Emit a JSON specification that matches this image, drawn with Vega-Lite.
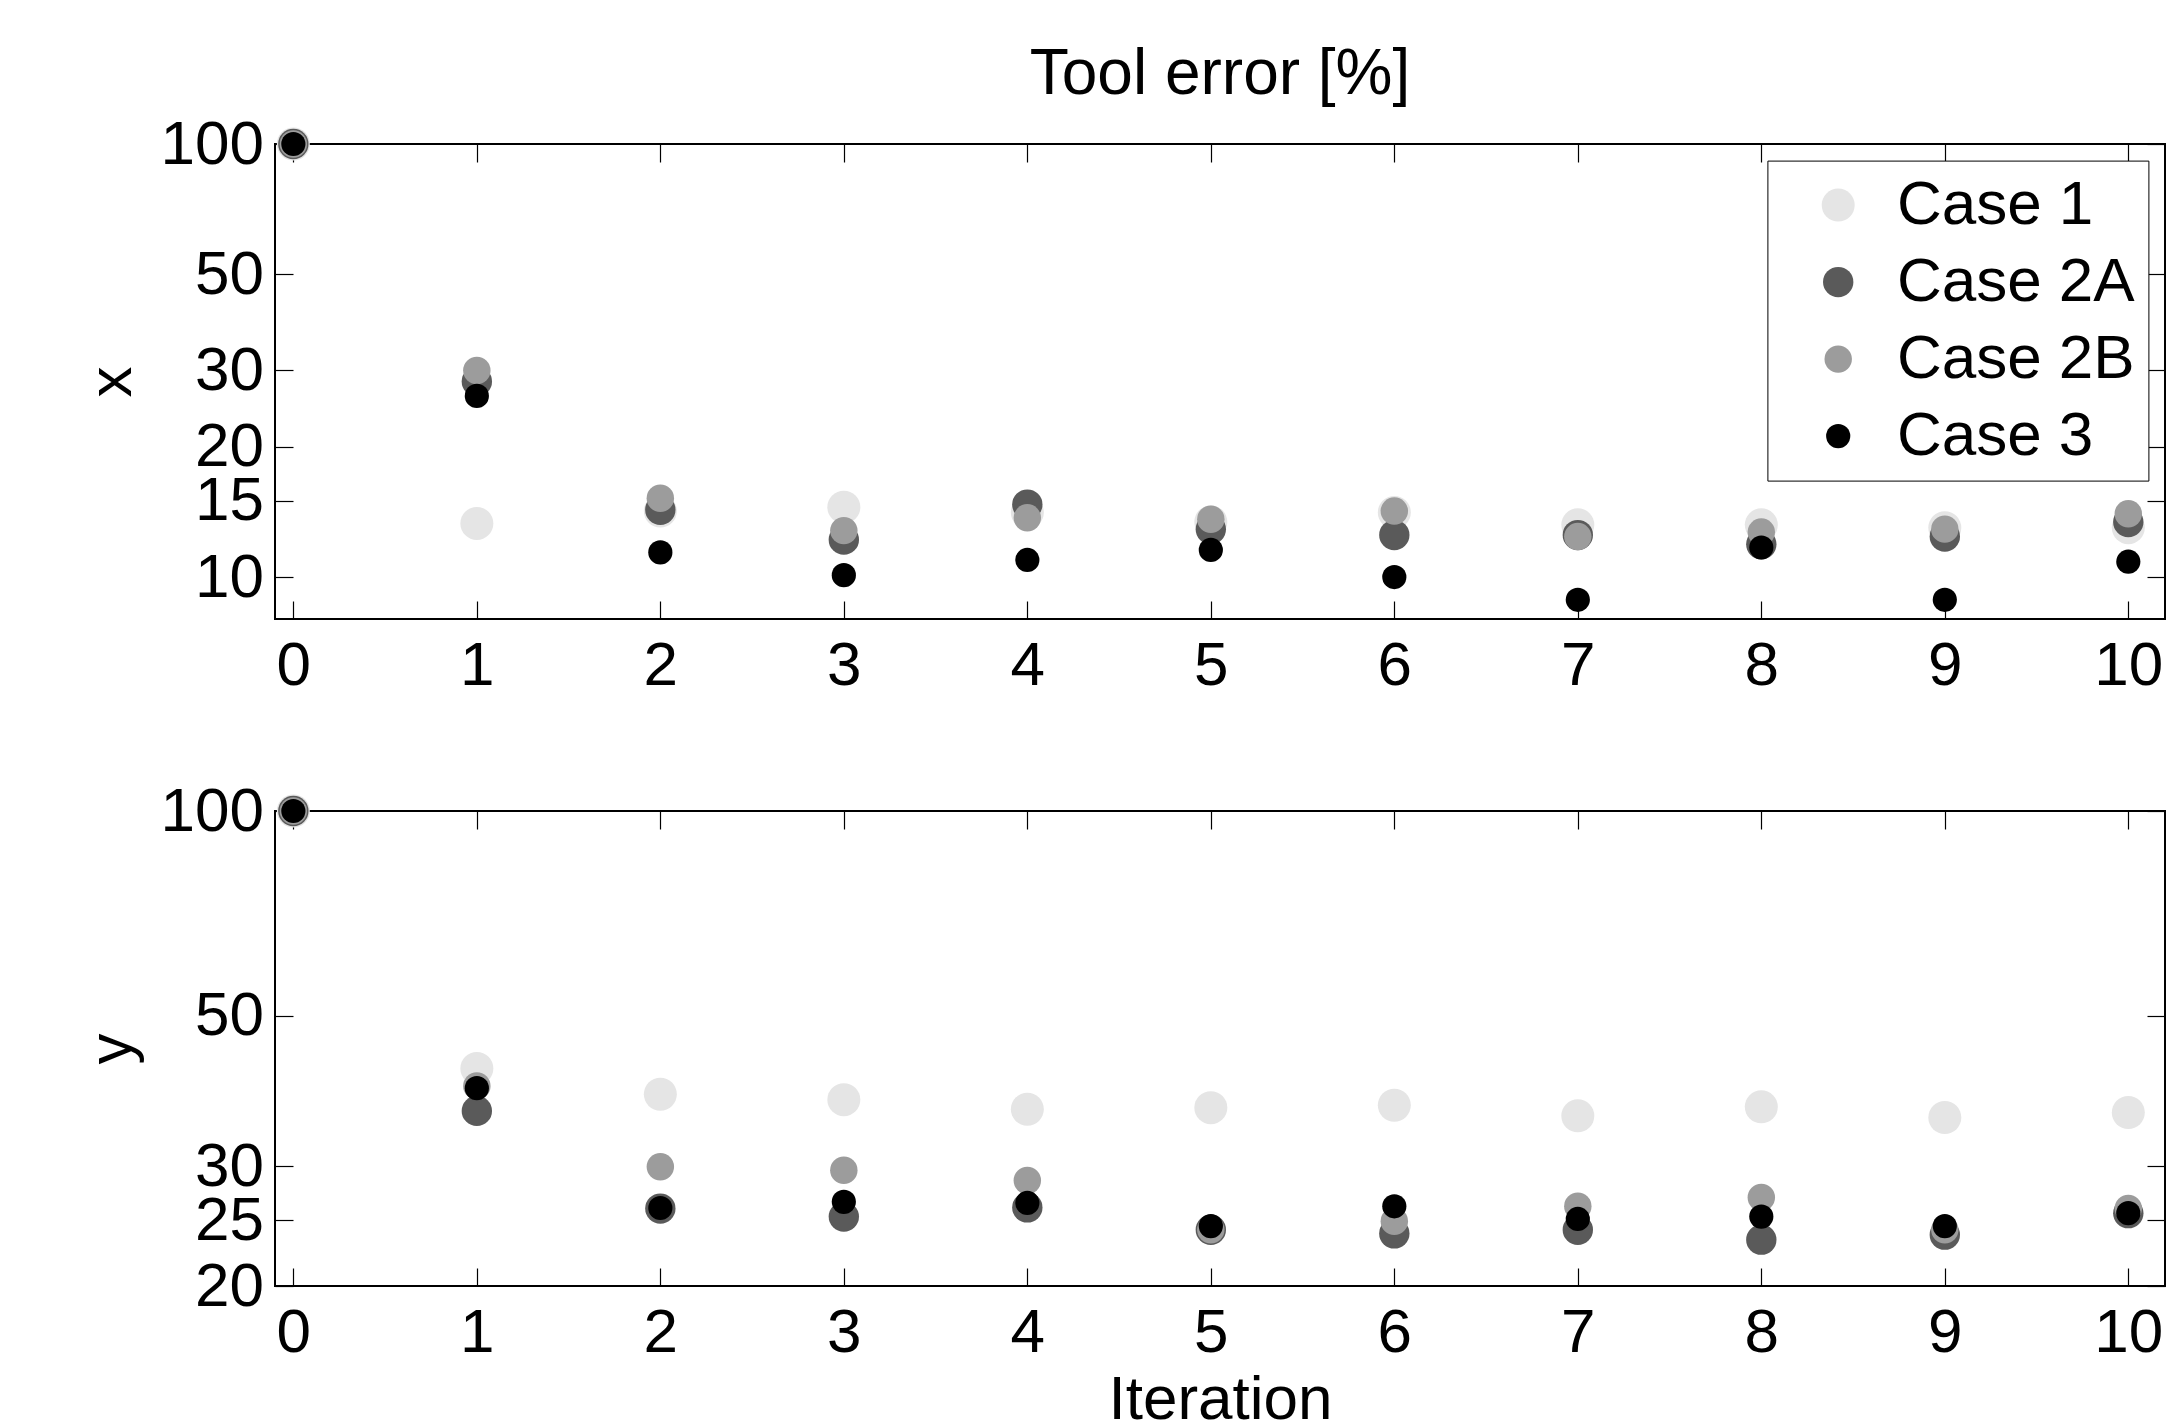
{
  "$schema": "https://vega.github.io/schema/vega-lite/v6.json",
  "padding": {"left": 79, "top": 42, "right": 0, "bottom": 0},
  "background": "white",
  "bounds": "flush",
  "spacing": 192,
  "datasets": {
    "xerr": [
      {"iter": 0, "case": "Case 1", "err": 100}, {"iter": 1, "case": "Case 1", "err": 13.3}, {"iter": 2, "case": "Case 1", "err": 14.2}, {"iter": 3, "case": "Case 1", "err": 14.5}, {"iter": 4, "case": "Case 1", "err": 14.1}, {"iter": 5, "case": "Case 1", "err": 13.4}, {"iter": 6, "case": "Case 1", "err": 14.1}, {"iter": 7, "case": "Case 1", "err": 13.2}, {"iter": 8, "case": "Case 1", "err": 13.2}, {"iter": 9, "case": "Case 1", "err": 13.0}, {"iter": 10, "case": "Case 1", "err": 13.0},
      {"iter": 0, "case": "Case 2A", "err": 100}, {"iter": 1, "case": "Case 2A", "err": 28.3}, {"iter": 2, "case": "Case 2A", "err": 14.3}, {"iter": 3, "case": "Case 2A", "err": 12.2}, {"iter": 4, "case": "Case 2A", "err": 14.7}, {"iter": 5, "case": "Case 2A", "err": 12.9}, {"iter": 6, "case": "Case 2A", "err": 12.5}, {"iter": 7, "case": "Case 2A", "err": 12.5}, {"iter": 8, "case": "Case 2A", "err": 11.9}, {"iter": 9, "case": "Case 2A", "err": 12.4}, {"iter": 10, "case": "Case 2A", "err": 13.4},
      {"iter": 0, "case": "Case 2B", "err": 100}, {"iter": 1, "case": "Case 2B", "err": 30.0}, {"iter": 2, "case": "Case 2B", "err": 15.2}, {"iter": 3, "case": "Case 2B", "err": 12.8}, {"iter": 4, "case": "Case 2B", "err": 13.7}, {"iter": 5, "case": "Case 2B", "err": 13.6}, {"iter": 6, "case": "Case 2B", "err": 14.2}, {"iter": 7, "case": "Case 2B", "err": 12.4}, {"iter": 8, "case": "Case 2B", "err": 12.7}, {"iter": 9, "case": "Case 2B", "err": 12.9}, {"iter": 10, "case": "Case 2B", "err": 14.0},
      {"iter": 0, "case": "Case 3", "err": 100}, {"iter": 1, "case": "Case 3", "err": 26.2}, {"iter": 2, "case": "Case 3", "err": 11.4}, {"iter": 3, "case": "Case 3", "err": 10.1}, {"iter": 4, "case": "Case 3", "err": 10.95}, {"iter": 5, "case": "Case 3", "err": 11.55}, {"iter": 6, "case": "Case 3", "err": 10.0}, {"iter": 7, "case": "Case 3", "err": 8.86}, {"iter": 8, "case": "Case 3", "err": 11.7}, {"iter": 9, "case": "Case 3", "err": 8.86}, {"iter": 10, "case": "Case 3", "err": 10.85}
    ],
    "yerr": [
      {"iter": 0, "case": "Case 1", "err": 100}, {"iter": 1, "case": "Case 1", "err": 41.8}, {"iter": 2, "case": "Case 1", "err": 38.3}, {"iter": 3, "case": "Case 1", "err": 37.6}, {"iter": 4, "case": "Case 1", "err": 36.4}, {"iter": 5, "case": "Case 1", "err": 36.6}, {"iter": 6, "case": "Case 1", "err": 36.9}, {"iter": 7, "case": "Case 1", "err": 35.6}, {"iter": 8, "case": "Case 1", "err": 36.7}, {"iter": 9, "case": "Case 1", "err": 35.4}, {"iter": 10, "case": "Case 1", "err": 36.0},
      {"iter": 0, "case": "Case 2A", "err": 100}, {"iter": 1, "case": "Case 2A", "err": 36.2}, {"iter": 2, "case": "Case 2A", "err": 26.0}, {"iter": 3, "case": "Case 2A", "err": 25.3}, {"iter": 4, "case": "Case 2A", "err": 26.1}, {"iter": 5, "case": "Case 2A", "err": 24.2}, {"iter": 6, "case": "Case 2A", "err": 23.9}, {"iter": 7, "case": "Case 2A", "err": 24.2}, {"iter": 8, "case": "Case 2A", "err": 23.4}, {"iter": 9, "case": "Case 2A", "err": 23.8}, {"iter": 10, "case": "Case 2A", "err": 25.6},
      {"iter": 0, "case": "Case 2B", "err": 100}, {"iter": 1, "case": "Case 2B", "err": 39.4}, {"iter": 2, "case": "Case 2B", "err": 29.95}, {"iter": 3, "case": "Case 2B", "err": 29.6}, {"iter": 4, "case": "Case 2B", "err": 28.6}, {"iter": 5, "case": "Case 2B", "err": 24.2}, {"iter": 6, "case": "Case 2B", "err": 24.9}, {"iter": 7, "case": "Case 2B", "err": 26.2}, {"iter": 8, "case": "Case 2B", "err": 27.0}, {"iter": 9, "case": "Case 2B", "err": 24.2}, {"iter": 10, "case": "Case 2B", "err": 26.0},
      {"iter": 0, "case": "Case 3", "err": 100}, {"iter": 1, "case": "Case 3", "err": 39.1}, {"iter": 2, "case": "Case 3", "err": 26.05}, {"iter": 3, "case": "Case 3", "err": 26.6}, {"iter": 4, "case": "Case 3", "err": 26.5}, {"iter": 5, "case": "Case 3", "err": 24.5}, {"iter": 6, "case": "Case 3", "err": 26.2}, {"iter": 7, "case": "Case 3", "err": 25.1}, {"iter": 8, "case": "Case 3", "err": 25.3}, {"iter": 9, "case": "Case 3", "err": 24.5}, {"iter": 10, "case": "Case 3", "err": 25.6}
    ]
  },
  "config": {
    "font": "Liberation Sans",
    "view": {"stroke": "black", "strokeWidth": 2},
    "axis": {
      "domain": false, "grid": false,
      "labelFont": "Liberation Sans", "labelFontSize": 62, "labelColor": "black",
      "tickColor": "black", "tickWidth": 1.2, "tickSize": -18,
      "titleFont": "Liberation Sans", "titleFontSize": 62, "titleFontWeight": "normal", "titleColor": "black",
      "labelFlush": false, "labelOverlap": false
    }
  },
  "resolve": {"legend": {"color": "independent", "size": "independent"}},
  "vconcat": [
    {
      "width": 1890, "height": 475,
      "title": {"text": "Tool error [%]", "fontSize": 64, "fontWeight": "normal", "font": "Liberation Sans", "color": "black", "frame": "group", "anchor": "middle", "baseline": "alphabetic", "offset": -45},
      "data": {"name": "xerr"},
      "layer": [
        {
          "mark": {"type": "point", "filled": true, "opacity": 1, "strokeWidth": 0},
          "encoding": {
            "x": {"field": "iter", "type": "quantitative", "scale": {"domain": [-0.1, 10.2], "nice": false, "zero": false},
                  "axis": {"orient": "bottom", "values": [0,1,2,3,4,5,6,7,8,9,10], "title": null, "labelPadding": 34.5}},
            "y": {"field": "err", "type": "quantitative", "scale": {"type": "log", "domain": [8, 100], "nice": false},
                  "axis": {"orient": "left", "values": [10,15,20,30,50,100], "format": "d", "title": "x", "titleAngle": -90, "titleX": -145, "titleY": 237.5, "titleBaseline": "alphabetic", "titleAlign": "center", "labelPadding": 29.6}},
            "color": {"field": "case", "type": "nominal",
                      "scale": {"domain": ["Case 1", "Case 2A", "Case 2B", "Case 3"], "range": ["#e5e5e5", "#5a5a5a", "#9c9c9c", "#000000"]},
                      "legend": {"orient": "none", "legendX": 1492.4, "legendY": 16.6, "title": null, "labelFontSize": 62, "labelFont": "Liberation Sans", "labelColor": "black", "labelLimit": 600, "strokeColor": "black", "fillColor": "white", "padding": 13.5, "rowPadding": 15, "symbolOffset": 26.3, "labelOffset": 27.7, "symbolType": "circle", "symbolStrokeWidth": 0, "symbolOpacity": 1}},
            "size": {"field": "case", "type": "ordinal",
                     "scale": {"domain": ["Case 1", "Case 2A", "Case 2B", "Case 3"], "range": [1090, 585, 370, 185]},
                     "legend": {"orient": "none", "legendX": 1492.4, "legendY": 16.6, "title": null, "labelFontSize": 62, "labelFont": "Liberation Sans", "labelColor": "black", "labelLimit": 600, "strokeColor": "black", "fillColor": "white", "padding": 13.5, "rowPadding": 15, "symbolOffset": 26.3, "labelOffset": 27.7, "symbolType": "circle", "symbolStrokeWidth": 0, "symbolOpacity": 1}},
            "order": {"field": "case"}
          }
        },
        {
          "mark": {"type": "point", "opacity": 0},
          "encoding": {
            "x": {"field": "iter", "type": "quantitative", "axis": {"orient": "top", "labels": false, "title": null, "values": [0,1,2,3,4,5,6,7,8,9,10]}},
            "y": {"field": "err", "type": "quantitative", "axis": {"orient": "right", "labels": false, "title": null, "values": [10,15,20,30,50,100]}}
          }
        }
      ],
      "resolve": {"axis": {"x": "independent", "y": "independent"}}
    },
    {
      "width": 1890, "height": 475,
      "data": {"name": "yerr"},
      "layer": [
        {
          "mark": {"type": "point", "filled": true, "opacity": 1, "strokeWidth": 0},
          "encoding": {
            "x": {"field": "iter", "type": "quantitative", "scale": {"domain": [-0.1, 10.2], "nice": false, "zero": false},
                  "axis": {"orient": "bottom", "values": [0,1,2,3,4,5,6,7,8,9,10], "title": "Iteration", "titleX": 945, "titleY": 132.4, "titleBaseline": "alphabetic", "titleAlign": "center", "labelPadding": 34.5}},
            "y": {"field": "err", "type": "quantitative", "scale": {"type": "log", "domain": [20, 100], "nice": false},
                  "axis": {"orient": "left", "values": [20,25,30,50,100], "format": "d", "title": "y", "titleAngle": -90, "titleX": -145, "titleY": 237.5, "titleBaseline": "alphabetic", "titleAlign": "center", "labelPadding": 29.6}},
            "color": {"field": "case", "type": "nominal",
                      "scale": {"domain": ["Case 1", "Case 2A", "Case 2B", "Case 3"], "range": ["#e5e5e5", "#5a5a5a", "#9c9c9c", "#000000"]},
                      "legend": null},
            "size": {"field": "case", "type": "ordinal",
                     "scale": {"domain": ["Case 1", "Case 2A", "Case 2B", "Case 3"], "range": [1090, 585, 370, 185]},
                     "legend": null},
            "order": {"field": "case"}
          }
        },
        {
          "mark": {"type": "point", "opacity": 0},
          "encoding": {
            "x": {"field": "iter", "type": "quantitative", "axis": {"orient": "top", "labels": false, "title": null, "values": [0,1,2,3,4,5,6,7,8,9,10]}},
            "y": {"field": "err", "type": "quantitative", "axis": {"orient": "right", "labels": false, "title": null, "values": [20,25,30,50,100]}}
          }
        }
      ],
      "resolve": {"axis": {"x": "independent", "y": "independent"}}
    }
  ]
}
